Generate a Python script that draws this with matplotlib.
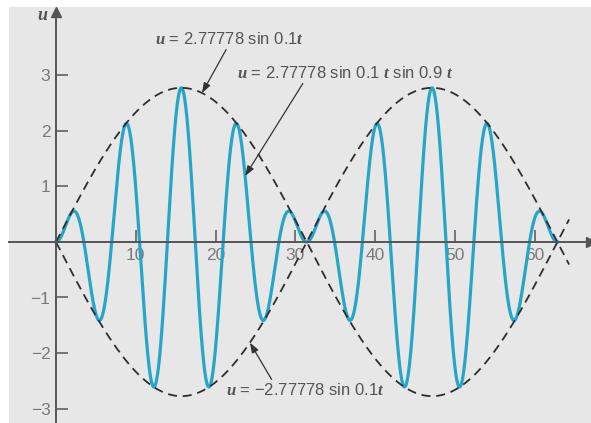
import numpy as np
import matplotlib
matplotlib.use("Agg")
import matplotlib.pyplot as plt
from matplotlib.patches import Rectangle

plt.rcParams['font.family'] = ['Liberation Sans', 'DejaVu Sans']
plt.rcParams['mathtext.fontset'] = 'custom'
plt.rcParams['mathtext.it'] = 'Liberation Serif:bold:italic'
plt.rcParams['mathtext.rm'] = 'Liberation Sans'

# model values
amp = 2.77778
slow = 0.1
fast = 0.9
t_end = 20 * np.pi          # one full period of the envelope
t_env_end = 64.3            # dashed envelope runs slightly past it

x_ticks = [10, 20, 30, 40, 50, 60]
y_ticks = [-3, -2, -1, 1, 2, 3]

label_env = r"$u$ = 2.77778 sin 0.1$t$"
label_wave = r"$u$ = 2.77778 sin 0.1 $t$ sin 0.9 $t$"
label_neg = r"$u$ = −2.77778 sin 0.1$t$"

teal = "#26a6c7"
axis_col = "#555555"
text_col = "#555555"
tick_col = "#7a7a7a"

W, H = 591, 423
x0_px, y0_px = 56, 242      # pixel of origin
px_per_t, px_per_u = 7.98, 55.5


def envelope(t):
    return amp * np.sin(slow * t)


def wave(t):
    return amp * np.sin(slow * t) * np.sin(fast * t)


t = np.linspace(0, t_end, 2000)
te = np.linspace(0, t_env_end, 500)

fig = plt.figure(figsize=(W / 100, H / 100), dpi=100)
ax = fig.add_axes([0, 0, 1, 1])
ax.set_facecolor("white")
ax.set_xlim(-x0_px / px_per_t, (W - x0_px) / px_per_t)
ax.set_ylim(-(H - y0_px) / px_per_u, y0_px / px_per_u)
ax.add_patch(Rectangle((9 / W, 0), 1, (H - 7) / H, transform=ax.transAxes,
                       facecolor="#e7e7e7", edgecolor="none", zorder=0))

ax.plot(te, envelope(te), color="#2e2e2e", lw=1.3, ls=(0, (5, 3.2)), zorder=3)
ax.plot(te, -envelope(te), color="#2e2e2e", lw=1.3, ls=(0, (5, 3.2)), zorder=3)
ax.plot(t, wave(t), color=teal, lw=2.3, zorder=2)

# axes through the origin
for side in ["top", "right"]:
    ax.spines[side].set_visible(False)
ax.spines["left"].set_position(("data", 0))
ax.spines["bottom"].set_position(("data", 0))
for side in ["left", "bottom"]:
    ax.spines[side].set_color(axis_col)
    ax.spines[side].set_linewidth(1.4)
    ax.spines[side].set_zorder(4)
ylo, yhi = ax.get_ylim()
xlo, xhi = ax.get_xlim()
u_top = (y0_px - 12) / px_per_u
ax.spines["left"].set_bounds(ylo, u_top)
ax.spines["bottom"].set_bounds(xlo + 9 / px_per_t, xhi)
ax.plot(0, u_top, marker="^", ms=7, color=axis_col, clip_on=False, zorder=5)
ax.plot(xhi, 0, marker=">", ms=7, color=axis_col, clip_on=False, zorder=5)

ax.set_xticks(x_ticks)
ax.set_yticks(y_ticks)
ax.set_xticklabels([str(v) for v in x_ticks])
ax.set_yticklabels([str(v).replace("-", "−") for v in y_ticks])
ax.tick_params(direction="in", length=8.6, width=1.1, color=axis_col,
               labelcolor=tick_col, labelsize=12.5, pad=4)

ax.text(-1.63, 4.09, "$u$", fontsize=13, color=text_col, ha="center", va="center")

arrow = dict(arrowstyle="-|>,head_length=0.5,head_width=0.18", color="#333333",
             lw=0.9, shrinkA=0, shrinkB=0)
fs = 12
ax.annotate(label_env, xy=(18.3, envelope(18.3)), xytext=(21.7, 3.66),
            fontsize=fs, color=text_col, ha="center", va="center",
            arrowprops=dict(arrow, relpos=(0.49, 0)))
ax.annotate(label_wave, xy=(23.7, wave(23.7)), xytext=(36.3, 3.05),
            fontsize=fs, color=text_col, ha="center", va="center",
            arrowprops=dict(arrow, relpos=(0.31, 0)))
ax.annotate(label_neg, xy=(24.3, -envelope(24.3)), xytext=(31.2, -2.67),
            fontsize=fs, color=text_col, ha="center", va="center",
            arrowprops=dict(arrow, relpos=(0.3, 1)))

fig.savefig("out.png", dpi=100)
